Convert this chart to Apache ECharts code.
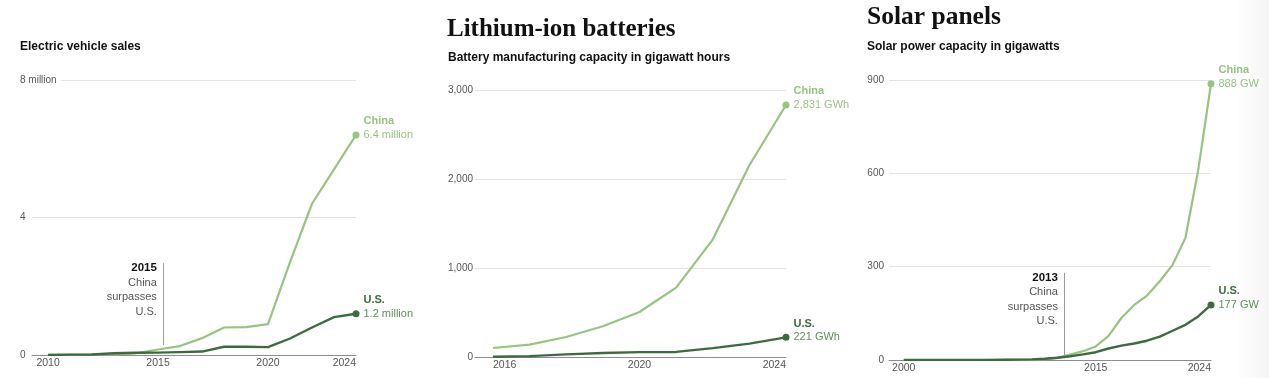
<!DOCTYPE html>
<html>
<head>
<meta charset="utf-8">
<script src="https://cdn.jsdelivr.net/npm/echarts@6/dist/echarts.min.js"></script>
<style>
html,body{margin:0;padding:0;background:#fff;}
#chart{width:1269px;height:378px;}
</style>
</head>
<body>
<div id="chart"></div>
<script>
// ---------- Data ----------
const evYears = [2010, 2011, 2012, 2013, 2014, 2015, 2016, 2017, 2018, 2019, 2020, 2021, 2022, 2023, 2024];
const evChina = [0.001, 0.005, 0.01, 0.02, 0.05, 0.16, 0.26, 0.49, 0.80, 0.81, 0.90, 2.70, 4.40, 5.40, 6.40];
const evUS    = [0.001, 0.01, 0.015, 0.05, 0.065, 0.07, 0.085, 0.10, 0.24, 0.24, 0.23, 0.48, 0.80, 1.10, 1.20];
const evXTicks = [2010, 2015, 2020, 2024];
const evYTicks = [0, 4, 8];

const batYears = [2016, 2017, 2018, 2019, 2020, 2021, 2022, 2023, 2024];
const batChina = [101, 139, 225, 345, 506, 780, 1319, 2154, 2831];
const batUS    = [3, 10, 30, 45, 55, 57, 100, 150, 221];
const batXTicks = [2016, 2020, 2024];
const batYTicks = [0, 1000, 2000, 3000];

const solarYears = [2000, 2001, 2002, 2003, 2004, 2005, 2006, 2007, 2008, 2009, 2010, 2011, 2012, 2013, 2014, 2015, 2016, 2017, 2018, 2019, 2020, 2021, 2022, 2023, 2024];
const solarChina = [0.02, 0.03, 0.04, 0.05, 0.06, 0.07, 0.08, 0.1, 0.14, 0.3, 0.9, 3.1, 6.7, 17.7, 28.4, 43.5, 77.8, 135, 177, 207, 253, 306, 392, 610, 888];
const solarUS    = [0.02, 0.03, 0.05, 0.08, 0.12, 0.2, 0.3, 0.5, 0.8, 1.2, 2.0, 3.9, 7.2, 12, 18, 25, 37, 46, 53, 62, 75, 94, 113, 140, 177];
const solarXTicks = [2000, 2015, 2024];
const solarYTicks = [0, 300, 600, 900];

const endLabels = [
  { name: 'China', value: '6.4 million' }, { name: 'U.S.', value: '1.2 million' },
  { name: 'China', value: '2,831 GWh' },   { name: 'U.S.', value: '221 GWh' },
  { name: 'China', value: '888 GW' },      { name: 'U.S.', value: '177 GW' }
];
const notes = [
  { panel: 0, year: 2015.24, from: 0.29, to: 2.67, head: '2015', lines: ['China', 'surpasses', 'U.S.'] },
  { panel: 2, year: 2012.55, from: 13, to: 280, head: '2013', lines: ['China', 'surpasses', 'U.S.'] }
];

// ---------- Styles ----------
const CHINA = '#97c47f';
const US = '#3c6b3e';
const US_VAL = '#5f8f58';
const FONT = '"Liberation Sans", Arial, sans-serif';
const SERIF = '"Liberation Serif", "Times New Roman", serif';

const grids = [
  { left: 32, right: 1269 - 356, top: 80, bottom: 378 - 355 },
  { left: 475, right: 1269 - 786, top: 90, bottom: 378 - 357 },
  { left: 889, right: 1269 - 1211, top: 80, bottom: 378 - 360 }
];
const xMins = [2009.27, 2015.51, 1998.85];
const xMaxs = [2024, 2024, 2024];
const xTicks = [evXTicks, batXTicks, solarXTicks];
const yTicks = [evYTicks, batYTicks, solarYTicks];
const yFormat = [
  v => (v === 8 ? '8 million' : String(v)),
  v => v.toLocaleString('en-US'),
  v => String(v)
];

const xAxes = grids.map((g, i) => ({
  type: 'value', gridIndex: i, min: xMins[i], max: xMaxs[i],
  axisLine: { show: true, lineStyle: { color: '#8c8c8c', width: 1 } },
  axisTick: { show: false },
  splitLine: { show: false },
  axisLabel: {
    customValues: xTicks[i], color: '#555', fontFamily: FONT, fontSize: 10.5, margin: 3,
    alignMaxLabel: 'right', alignMinLabel: i === 1 ? 'left' : 'center',
    formatter: v => String(v)
  }
}));
const yAxes = grids.map((g, i) => ({
  type: 'value', gridIndex: i, min: 0, max: yTicks[i][yTicks[i].length - 1],
  interval: yTicks[i][1] - yTicks[i][0],
  axisLine: { show: false }, axisTick: { show: false },
  splitLine: { show: true, lineStyle: { color: '#e4e4e4', width: 1 } },
  axisLabel: i === 0 ? {
    color: '#555', fontFamily: FONT, fontSize: 10, align: 'left', margin: 12,
    backgroundColor: '#fff', padding: [1, 4, 1, 0], formatter: yFormat[i]
  } : {
    color: '#555', fontFamily: FONT, fontSize: 10, margin: i === 1 ? 2 : 5, formatter: yFormat[i]
  }
}));

function toData(years, vals, label, isChina) {
  return years.map((y, k) => {
    const item = { value: [y, vals[k]] };
    if (k === years.length - 1) {
      item.symbol = 'circle';
      item.symbolSize = 7;
      item.label = {
        show: true, position: 'right', distance: 4, offset: [0, -7],
        formatter: '{n|' + label.name + '}\n{v|' + label.value + '}',
        rich: {
          n: { fontFamily: FONT, fontSize: 11, fontWeight: 'bold', color: isChina ? CHINA : US, lineHeight: 13.5 },
          v: { fontFamily: FONT, fontSize: 11, color: isChina ? CHINA : US_VAL, lineHeight: 13.5 }
        }
      };
    }
    return item;
  });
}

const panels = [
  [evYears, evChina, evUS],
  [batYears, batChina, batUS],
  [solarYears, solarChina, solarUS]
];
const series = [];
panels.forEach((p, i) => {
  const [years, ch, us] = p;
  series.push({
    type: 'line', xAxisIndex: i, yAxisIndex: i, data: toData(years, ch, endLabels[i * 2], true),
    showSymbol: true, symbol: 'none', symbolSize: 7, silent: true, z: 3,
    lineStyle: { color: CHINA, width: 2.2 }, itemStyle: { color: CHINA }
  });
  const s = {
    type: 'line', xAxisIndex: i, yAxisIndex: i, data: toData(years, us, endLabels[i * 2 + 1], false),
    showSymbol: true, symbol: 'none', symbolSize: 7, silent: true, z: 4,
    lineStyle: { color: US, width: 2.4 }, itemStyle: { color: US }
  };
  const note = notes.find(n => n.panel === i);
  if (note) {
    s.markLine = {
      silent: true, symbol: 'none', animation: false,
      lineStyle: { color: '#9a9a9a', width: 1, type: 'solid' },
      label: { show: false },
      data: [[{ coord: [note.year, note.from] }, { coord: [note.year, note.to] }]]
    };
    s.markPoint = {
      silent: true, animation: false,
      data: [{
        coord: [note.year, note.to], symbol: 'circle', symbolSize: 1,
        itemStyle: { color: 'rgba(0,0,0,0)' },
        label: {
          show: true, position: [-6, -2], align: 'right', verticalAlign: 'top',
          formatter: ['{b|' + note.head + '}'].concat(note.lines.map(t => '{t|' + t + '}')).join('\n'),
          rich: {
            b: { fontFamily: FONT, fontSize: 11.5, fontWeight: 'bold', color: '#111', lineHeight: 14.5, align: 'right' },
            t: { fontFamily: FONT, fontSize: 11, color: '#555', lineHeight: 14.5, align: 'right' }
          }
        }
      }]
    };
  }
  series.push(s);
});

const chart = echarts.init(document.getElementById('chart'), null, { renderer: 'canvas' });
chart.setOption({
  backgroundColor: '#fff',
  animation: false,
  grid: grids,
  xAxis: xAxes,
  yAxis: yAxes,
  series: series,
  graphic: [
    { type: 'text', x: 20, y: 47, style: { text: 'Electric vehicle sales', font: 'bold 12px ' + FONT, fill: '#111', textVerticalAlign: 'middle' } },
    { type: 'text', x: 447, y: 30, style: { text: 'Lithium-ion batteries', font: 'bold 25px ' + SERIF, fill: '#111', textVerticalAlign: 'middle' } },
    { type: 'text', x: 448, y: 58, style: { text: 'Battery manufacturing capacity in gigawatt hours', font: 'bold 12px ' + FONT, fill: '#111', textVerticalAlign: 'middle' } },
    { type: 'text', x: 867, y: 17, style: { text: 'Solar panels', font: 'bold 25.5px ' + SERIF, fill: '#111', textVerticalAlign: 'middle' } },
    { type: 'text', x: 867, y: 47, style: { text: 'Solar power capacity in gigawatts', font: 'bold 12px ' + FONT, fill: '#111', textVerticalAlign: 'middle' } },
    { type: 'rect', shape: { x: 1236, y: 0, width: 33, height: 378 }, silent: true, z: -1,
      style: { fill: new echarts.graphic.LinearGradient(0, 0, 1, 0, [
        { offset: 0, color: 'rgba(0,0,0,0)' }, { offset: 0.2, color: 'rgba(0,0,0,0.012)' }, { offset: 1, color: 'rgba(0,0,0,0.04)' }]) } }
  ]
});
</script>
</body>
</html>
